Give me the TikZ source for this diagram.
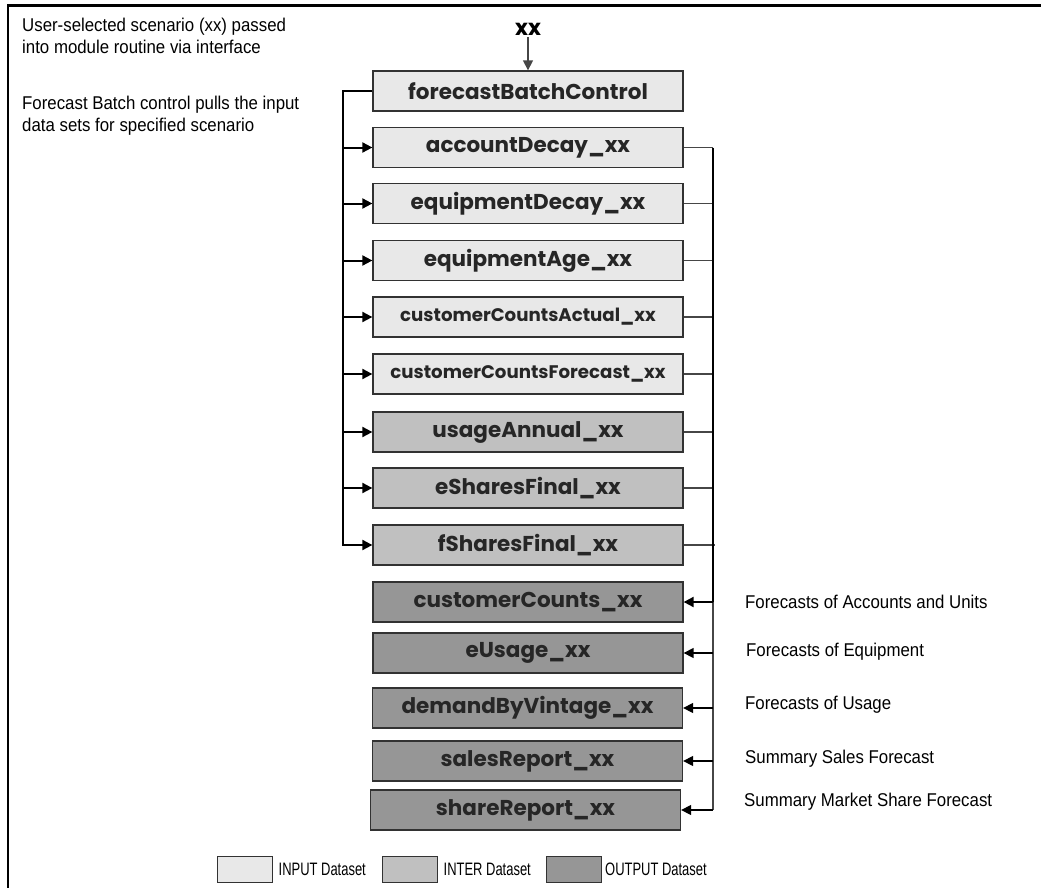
\documentclass[tikz,border=0pt]{standalone}
\usepackage{fontspec}
\usetikzlibrary{arrows.meta}
\newfontfamily\narrowsans{Liberation Sans}[FakeStretch=0.91]
\newfontfamily\condsans{Liberation Sans}[FakeStretch=0.72]
\newfontfamily\gothic{Poppins}
\definecolor{inputgray}{RGB}{232,232,232}
\definecolor{intergray}{RGB}{192,192,192}
\definecolor{outputgray}{RGB}{150,150,150}
\definecolor{edgegray}{RGB}{50,50,50}
\definecolor{wiregray}{RGB}{70,70,70}
\tikzset{
  ds/.style={draw=edgegray, line width=1.3pt, minimum width=310pt, minimum height=40pt,
    inner sep=0pt, text=black!85, font=\gothic\bfseries\fontsize{21.5}{24}\selectfont},
  dssmall/.style={font=\gothic\bfseries\fontsize{18.2}{21}\selectfont},
  inbox/.style={ds, fill=inputgray},
  interbox/.style={ds, fill=intergray},
  outbox/.style={ds, fill=outputgray},
  note/.style={font=\narrowsans\fontsize{18.5}{21.7}\selectfont, inner sep=0pt, align=left},
  keytext/.style={font=\condsans\fontsize{18}{21}\selectfont, inner sep=0pt},
  legbox/.style={draw=edgegray, line width=1pt, minimum width=55pt, minimum height=26pt, inner sep=0pt},
  tip/.style={-{Triangle[length=10pt,width=10pt]}},
  strong/.style={line width=2pt, black},
  thin/.style={line width=1.4pt, wiregray},
}
\begin{document}
\begin{tikzpicture}[x=1pt,y=-1pt]
\useasboundingbox (0,0) rectangle (1041,888);
% page frame (top and left sides)
\draw[line width=2.6pt] (8,888) -- (8,5.5) -- (1041,5.5);

% notes at the upper left
\node[note, anchor=north west] (n1) at (22,18) {User-selected scenario (xx) passed\\into module routine via interface};
\node[note, anchor=north west] (n2) at (22,96) {Forecast Batch control pulls the input\\data sets for specified scenario};

% datasets
\node[font=\gothic\bfseries\fontsize{22}{24}\selectfont, inner sep=2pt] (xx) at (528,29) {xx};
\node[inbox] (fbc) at (528,91) {forecastBatchControl};
\node[inbox] (ad) at (528,147.5) {accountDecay\_xx};
\node[inbox] (ed) at (528,203.5) {equipmentDecay\_xx};
\node[inbox] (ea) at (528,260.5) {equipmentAge\_xx};
\node[inbox, dssmall] (cca) at (528,317) {customerCountsActual\_xx};
\node[inbox, dssmall] (ccf) at (528,374) {customerCountsForecast\_xx};
\node[interbox] (ua) at (528,432) {usageAnnual\_xx};
\node[interbox] (esf) at (528,488) {eSharesFinal\_xx};
\node[interbox] (fsf) at (528,545) {fSharesFinal\_xx};
\node[outbox] (cc) at (528,602) {customerCounts\_xx};
\node[outbox] (eu) at (528,653) {eUsage\_xx};
\node[outbox] (dbv) at (527.5,708) {demandByVintage\_xx};
\node[outbox] (sr) at (527.5,761) {salesReport\_xx};
\node[outbox] (shr) at (525.5,810) {shareReport\_xx};

\draw[thin, tip] (xx) -- (fbc);

% left bus: batch control feeds every input dataset
\coordinate (lbus) at (343,91);
\draw[strong, tip] (fbc.west) -- (lbus) -- (lbus |- fsf.west) -- (fsf.west);
\foreach \n in {ad,ed,ea,cca,ccf,ua,esf}
  \draw[strong, tip] (lbus |- \n.west) -- (\n.west);

% right bus: datasets combine into the forecasts
\coordinate (rbus) at (713,147.5);
\draw[thin] (ad.east) -- (rbus);
\foreach \n in {ed,ea,cca,ccf,ua,esf}
  \draw[thin] (\n.east) -- (rbus |- \n.east);
\draw[thin] (fsf.east) -- ([xshift=2pt]rbus |- fsf.east);
\draw[strong] (rbus) -- (rbus |- cc.east);
\draw[thin] (rbus |- cc.east) -- (rbus |- shr.east);
\draw[strong, tip] (rbus |- cc.east) -- (cc.east);
\foreach \n in {eu,dbv,sr,shr}
  \draw[thin, black, tip] (rbus |- \n.east) -- (\n.east);

% forecast labels
\node[note, anchor=west] (l1) at (745,602) {Forecasts of Accounts and Units};
\node[note, anchor=west] (l2) at (746,652) {Forecasts of Equipment};
\node[note, anchor=west] (l3) at (745,705) {Forecasts of Usage};
\node[note, anchor=west] (l4) at (745,759) {Summary Sales Forecast};
\node[note, anchor=west] (l5) at (744,802) {Summary Market Share Forecast};

% legend
\node[legbox, fill=inputgray] (kin) at (244.5,869) {};
\node[keytext, anchor=west] (kint) at ([xshift=6pt]kin.east) {INPUT Dataset};
\node[legbox, fill=intergray] (kit) at (409.5,869) {};
\node[keytext, anchor=west] (kitt) at ([xshift=6pt]kit.east) {INTER Dataset};
\node[legbox, fill=outputgray] (kout) at (574,869) {};
\node[keytext, anchor=west] (koutt) at ([xshift=3pt]kout.east) {OUTPUT Dataset};
\end{tikzpicture}
\end{document}
